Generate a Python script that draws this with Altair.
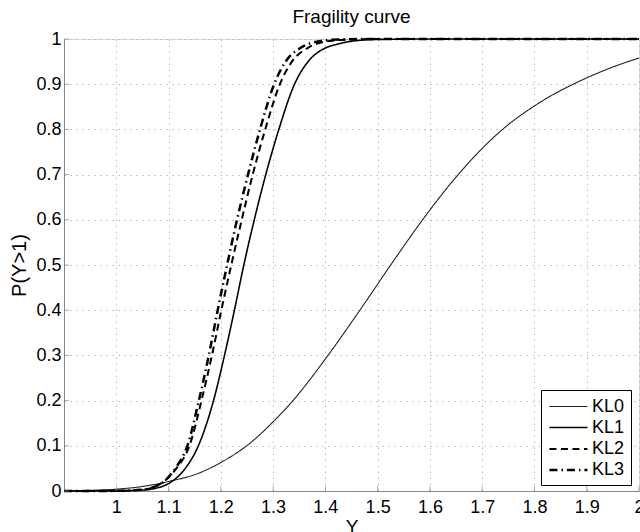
import altair as alt
import pandas as pd

series_names = ["KL0", "KL1", "KL2", "KL3"]

kl0_y = [0.9, 0.95, 1.0, 1.05, 1.1, 1.159, 1.2, 1.255, 1.3, 1.338, 1.405, 1.466,
         1.525, 1.586, 1.654, 1.739, 1.8, 1.874, 1.9, 1.95, 2.0]
kl0_p = [0.0005, 0.0015, 0.004, 0.01, 0.021, 0.040, 0.063, 0.105, 0.153, 0.2, 0.3,
         0.4, 0.5, 0.6, 0.7, 0.8, 0.852, 0.9, 0.914, 0.938, 0.958]

kl1_y = [0.9, 0.95, 1.0, 1.05, 1.09, 1.105, 1.132, 1.157, 1.186, 1.207, 1.226,
         1.244, 1.264, 1.286, 1.311, 1.341, 1.367, 1.40, 1.421, 1.45, 1.5, 1.6, 2.0]
kl1_p = [0.0, 0.0001, 0.0003, 0.002, 0.011, 0.02, 0.05, 0.1, 0.2, 0.3, 0.4,
         0.5, 0.6, 0.7, 0.8, 0.9, 0.95, 0.98, 0.988, 0.995, 0.999, 1.0, 1.0]

kl2_y = [0.9, 0.95, 1.0, 1.05, 1.074, 1.09, 1.115, 1.140, 1.163, 1.183, 1.201,
         1.220, 1.240, 1.261, 1.285, 1.313, 1.336, 1.366, 1.385, 1.43, 1.5, 2.0]
kl2_p = [0.0, 0.0001, 0.0003, 0.003, 0.01, 0.02, 0.05, 0.1, 0.2, 0.3, 0.4,
         0.5, 0.6, 0.7, 0.8, 0.9, 0.95, 0.98, 0.99, 0.998, 1.0, 1.0]

kl3_y = [0.9, 0.95, 1.0, 1.05, 1.075, 1.09, 1.113, 1.136, 1.158, 1.177, 1.194,
         1.212, 1.231, 1.252, 1.275, 1.302, 1.324, 1.352, 1.37, 1.41, 1.47, 2.0]
kl3_p = [0.0, 0.0001, 0.0003, 0.003, 0.01, 0.02, 0.05, 0.1, 0.2, 0.3, 0.4,
         0.5, 0.6, 0.7, 0.8, 0.9, 0.95, 0.98, 0.99, 0.998, 1.0, 1.0]

x_ticks = [1.0, 1.1, 1.2, 1.3, 1.4, 1.5, 1.6, 1.7, 1.8, 1.9, 2.0]
y_ticks = [0.0, 0.1, 0.2, 0.3, 0.4, 0.5, 0.6, 0.7, 0.8, 0.9, 1.0]

rows = []
for name, xs, ps in [("KL0", kl0_y, kl0_p), ("KL1", kl1_y, kl1_p),
                     ("KL2", kl2_y, kl2_p), ("KL3", kl3_y, kl3_p)]:
    for i, (x, p) in enumerate(zip(xs, ps)):
        rows.append({"series": name, "Y": x, "P": p, "order": i})
df = pd.DataFrame(rows)

FONT = "Liberation Sans"

xscale = alt.Scale(domain=[0.9, 2.0], nice=False, zero=False)
yscale = alt.Scale(domain=[0.0, 1.0], nice=False, zero=True)

xaxis = alt.Axis(values=x_ticks, format="~g", grid=True, gridDash=[1.5, 4.5],
                 gridColor="#b8b8b8", gridWidth=1, domainColor="#888888",
                 ticks=False, labelFontSize=18, labelFont=FONT, labelColor="black",
                 labelPadding=7, labelFlush=False, labelOverlap=False,
                 titleFontSize=19, titleFont=FONT, titleFontWeight="normal",
                 titleColor="black", titlePadding=1)
yaxis = alt.Axis(values=y_ticks, format="~g", grid=True, gridDash=[1.5, 4.5],
                 gridColor="#b8b8b8", gridWidth=1, domainColor="#888888",
                 ticks=False, labelFontSize=18, labelFont=FONT, labelColor="black",
                 labelPadding=3, labelFlush=False, labelOverlap=False,
                 titleFontSize=20, titleFont=FONT, titleFontWeight="normal",
                 titleColor="black", titlePadding=6)

legend = alt.Legend(orient="none", legendX=477, legendY=351,
                    symbolType="M-0.9,0L3.1,0", symbolSize=361,
                    labelFontSize=18, labelFont=FONT,
                    labelColor="black", strokeColor="black", fillColor="white",
                    padding=6, rowPadding=1, labelOffset=23,
                    symbolStrokeColor="black")

lines = alt.Chart(df).mark_line(interpolate="monotone").encode(
    x=alt.X("Y:Q", scale=xscale, axis=xaxis, title="Y"),
    y=alt.Y("P:Q", scale=yscale, axis=yaxis, title="P(Y>1)"),
    color=alt.Color("series:N", title="", legend=legend,
                    scale=alt.Scale(domain=series_names,
                                    range=["#222222", "#000000", "#000000", "#000000"])),
    strokeDash=alt.StrokeDash("series:N", title="",
                              scale=alt.Scale(domain=series_names,
                                              range=[[1, 0], [1, 0], [7, 4.5], [8, 4, 1.5, 4]])),
    strokeWidth=alt.StrokeWidth("series:N", title="",
                                scale=alt.Scale(domain=series_names,
                                                range=[1.1, 2.5, 2.5, 1.9])),
    order="order:Q",
)

xt = alt.Chart(pd.DataFrame({"Y": x_ticks})).mark_tick(
    orient="vertical", size=5, thickness=1, color="#888888", yOffset=-2.5
).encode(x=alt.X("Y:Q", scale=xscale, title="Y"), y=alt.datum(0.0))

yt = alt.Chart(pd.DataFrame({"P": y_ticks})).mark_tick(
    orient="horizontal", size=5, thickness=1, color="#888888", xOffset=2.5
).encode(y=alt.Y("P:Q", scale=yscale, title="P(Y>1)"), x=alt.datum(0.9))

chart = alt.layer(lines, xt, yt).properties(
    width=575, height=452,
    title=alt.TitleParams("Fragility curve", fontSize=19, font=FONT,
                          fontWeight="normal", anchor="middle", color="black",
                          offset=3),
    autosize=alt.AutoSizeParams(type="none"),
    padding={"left": 64, "top": 39, "right": 1, "bottom": 41},
).configure_view(stroke=None).configure(background="white")

chart.save("out.html", embed_options={"renderer": "svg", "actions": False})
